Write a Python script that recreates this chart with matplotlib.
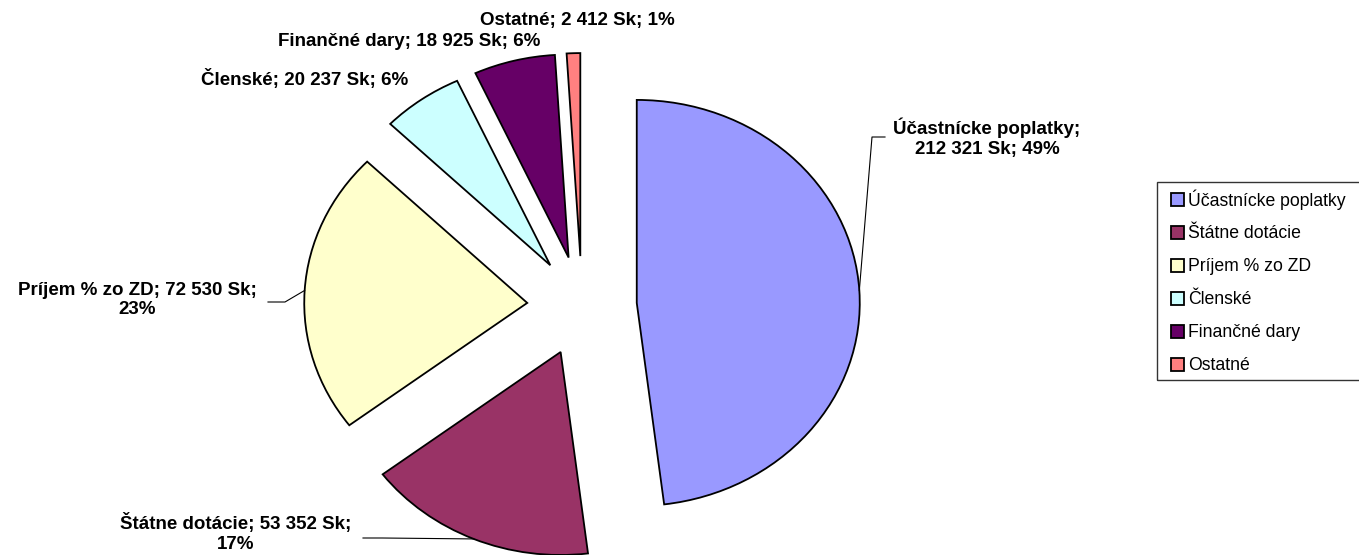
import matplotlib.pyplot as plt
from matplotlib.patches import Rectangle
import numpy as np

categories = ['Účastnícke poplatky', 'Štátne dotácie', 'Príjem % zo ZD',
              'Členské', 'Finančné dary', 'Ostatné']
amounts = [212321, 53352, 72530, 20237, 18925, 2412]
percents = [49, 17, 23, 6, 6, 1]
colors = ['#9999FF', '#993366', '#FFFFCC', '#CCFFFF', '#660066', '#FF8080']

plt.rcParams['font.family'] = ['Liberation Sans', 'DejaVu Sans']

W, H = 1359, 555
fig = plt.figure(figsize=(W / 100, H / 100), dpi=100)
ax = fig.add_axes([0, 0, 1, 1])

# pie centre and radii in pixels (the original picture is stretched sideways)
cx, cy, rx, ry = 582, 306, 223, 203


def to_data(px, py):
    return (px - cx) / rx, (cy - py) / ry


wedges, _ = ax.pie(percents, colors=colors, startangle=90, counterclock=False,
                   explode=[0.246] * len(percents),
                   wedgeprops=dict(edgecolor='black', linewidth=1.3))
ax.set_aspect('auto')
ax.set_xlim(-cx / rx, (W - cx) / rx)
ax.set_ylim(-(H - cy) / ry, cy / ry)
ax.axis('off')

# data labels, Excel style "name; value Sk; pct%"
breaks = ['name', 'pct', 'pct', None, None, None]
label_px = [(987, 138), (236, 533), (137, 300), (305, 79), (409, 41), (577, 20)]
leader_px = {0: [(885, 137), (872, 137)],
             1: [(363, 538), (382, 538)],
             2: [(268, 302), (285, 302)]}

for i, (name, amt, pct) in enumerate(zip(categories, amounts, percents)):
    value = f'{amt:,}'.replace(',', ' ') + ' Sk'
    if breaks[i] == 'name':
        text = f'{name};\n{value}; {pct}%'
    elif breaks[i] == 'pct':
        text = f'{name}; {value};\n{pct}%'
    else:
        text = f'{name}; {value}; {pct}%'
    x, y = to_data(*label_px[i])
    ax.text(x, y, text, ha='center', va='center', fontsize=13.5,
            fontweight='bold', multialignment='center')

    if i in leader_px:
        w = wedges[i]
        mid = np.deg2rad((w.theta1 + w.theta2) / 2)
        end = (w.center[0] + w.r * np.cos(mid), w.center[1] + w.r * np.sin(mid))
        pts = [to_data(*p) for p in leader_px[i]] + [end]
        xs, ys = zip(*pts)
        ax.plot(xs, ys, color='black', linewidth=0.8)

ax.legend(wedges, categories, loc='upper left',
          bbox_to_anchor=(1171 / W, 1 - 189 / H), bbox_transform=fig.transFigure,
          frameon=False, fontsize=12.7, handlelength=0.72, handleheight=0.72,
          handletextpad=0.25, labelspacing=0.907, borderpad=0, borderaxespad=0)
fig.add_artist(Rectangle((1157 / W, 1 - 380 / H), 300 / W, 198 / H,
                         transform=fig.transFigure, fill=False,
                         edgecolor='#333333', linewidth=1))

fig.savefig('out.png', dpi=100)
